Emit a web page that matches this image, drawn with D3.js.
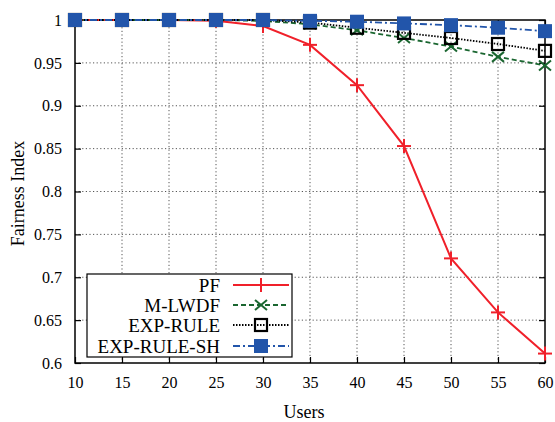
<!DOCTYPE html>
<html><head><meta charset="utf-8">
<script src="https://cdn.jsdelivr.net/npm/d3@7"></script>
<style>body{margin:0;background:#fff}</style>
</head><body><svg id="c" width="555" height="422"></svg>
<script>
const users = [10,15,20,25,30,35,40,45,50,55,60];
const pf      = [1,1,1,0.999,0.993,0.971,0.924,0.853,0.722,0.659,0.611];
const mlwdf   = [1,1,1,1,0.999,0.995,0.988,0.979,0.969,0.957,0.947];
const exprule = [1,1,1,1,1,0.997,0.991,0.985,0.979,0.972,0.964];
const expsh   = [1,1,1,1,1,0.999,0.998,0.996,0.994,0.991,0.987];
const xTicks = [10,15,20,25,30,35,40,45,50,55,60];
const yTicks = [0.6,0.65,0.7,0.75,0.8,0.85,0.9,0.95,1];
const seriesNames = ["PF","M-LWDF","EXP-RULE","EXP-RULE-SH"];

const FONT = "Liberation Serif, DejaVu Serif, serif";
const svg = d3.select("#c");
const L=75,R=545,T=20,B=363;
const x = d3.scaleLinear().domain([10,60]).range([L,R]);
const y = d3.scaleLinear().domain([0.6,1]).range([B,T]);

const g = svg.append("g");
g.selectAll(".gx").data(xTicks.slice(1,-1)).enter().append("line")
 .attr("x1",d=>x(d)).attr("x2",d=>x(d)).attr("y1",T).attr("y2",B)
 .attr("stroke","#555").attr("stroke-width",1).attr("stroke-dasharray","1.2,2.4");
g.selectAll(".gy").data(yTicks.slice(1,-1)).enter().append("line")
 .attr("y1",d=>y(d)).attr("y2",d=>y(d)).attr("x1",L).attr("x2",R)
 .attr("stroke","#555").attr("stroke-width",1).attr("stroke-dasharray","1.2,2.4");

const fmt = d=>String(d);
const ax = svg.append("g").attr("transform",`translate(0,${B})`)
 .call(d3.axisBottom(x).tickValues(xTicks).tickSize(-6).tickPadding(14).tickFormat(d3.format("d")));
const axT = svg.append("g").attr("transform",`translate(0,${T})`)
 .call(d3.axisTop(x).tickValues(xTicks).tickSize(-6).tickFormat(""));
const ay = svg.append("g").attr("transform",`translate(${L},0)`)
 .call(d3.axisLeft(y).tickValues(yTicks).tickSize(-6).tickPadding(13).tickFormat(fmt));
const ayR = svg.append("g").attr("transform",`translate(${R},0)`)
 .call(d3.axisRight(y).tickValues(yTicks).tickSize(-6).tickFormat(""));
[ax,axT,ay,ayR].forEach(a=>{a.attr("font-family",FONT).attr("font-size",16);a.select(".domain").remove();a.selectAll("line").attr("stroke","#000").attr("stroke-width",1.2);
 a.selectAll("text").attr("fill","#000");});
svg.append("rect").attr("x",L).attr("y",T).attr("width",R-L).attr("height",B-T)
 .attr("fill","none").attr("stroke","#000").attr("stroke-width",1.5);

svg.append("text").attr("x",(L+R)/2-6).attr("y",418).attr("text-anchor","middle").attr("font-family",FONT).attr("font-size",18).text("Users");
svg.append("text").attr("transform",`translate(24,${(T+B)/2+2}) rotate(-90)`).attr("text-anchor","middle").attr("font-family",FONT).attr("font-size",18).text("Fairness Index");

const styles = [
 {data:pf,color:"#f0202a",dash:null,marker:"plus"},
 {data:mlwdf,color:"#1a6630",dash:"5,3",marker:"x"},
 {data:exprule,color:"#000",dash:"1.5,1.5",marker:"sq"},
 {data:expsh,color:"#2255aa",dash:"7,3,2,3",marker:"fsq"}
];
function drawMarker(sel,type,color){
 if(type==="plus"){
  sel.append("line").attr("x1",-7).attr("x2",7).attr("y1",0).attr("y2",0).attr("stroke",color).attr("stroke-width",2);
  sel.append("line").attr("y1",-7).attr("y2",7).attr("x1",0).attr("x2",0).attr("stroke",color).attr("stroke-width",2);
 } else if(type==="x"){
  sel.append("line").attr("x1",-6).attr("x2",6).attr("y1",-5).attr("y2",5).attr("stroke",color).attr("stroke-width",2);
  sel.append("line").attr("x1",-6).attr("x2",6).attr("y1",5).attr("y2",-5).attr("stroke",color).attr("stroke-width",2);
 } else if(type==="sq"){
  sel.append("rect").attr("x",-6).attr("y",-6).attr("width",12).attr("height",12).attr("fill","none").attr("stroke",color).attr("stroke-width",2.2);
 } else {
  sel.append("rect").attr("x",-7).attr("y",-7).attr("width",14).attr("height",14).attr("fill",color);
 }
}
const line = d3.line().x((d,i)=>x(users[i])).y(d=>y(d));
styles.forEach(s=>{
 svg.append("path").attr("d",line(s.data)).attr("fill","none").attr("stroke",s.color)
  .attr("stroke-width",s.marker==="plus"?2:1.8).attr("stroke-dasharray",s.dash);
});
styles.forEach(s=>{
 s.data.forEach((v,i)=>{
  const m = svg.append("g").attr("transform",`translate(${x(users[i])},${y(v)})`);
  drawMarker(m,s.marker,s.color);
 });
});

const lg = svg.append("g");
lg.append("rect").attr("x",87).attr("y",274).attr("width",205).attr("height",83).attr("fill","#fff").attr("stroke","#000").attr("stroke-width",1.2);
const rowY=[285,305,325,346];
styles.forEach((s,i)=>{
 lg.append("text").attr("x",220).attr("y",rowY[i]+6.5).attr("text-anchor","end").attr("font-family",FONT).attr("font-size",19).text(seriesNames[i]);
 lg.append("line").attr("x1",233).attr("x2",289).attr("y1",rowY[i]).attr("y2",rowY[i]).attr("stroke",s.color)
  .attr("stroke-width",s.marker==="plus"?2:1.8).attr("stroke-dasharray",s.dash);
 const m=lg.append("g").attr("transform",`translate(261,${rowY[i]})`);
 drawMarker(m,s.marker,s.color);
});
</script></body></html>
